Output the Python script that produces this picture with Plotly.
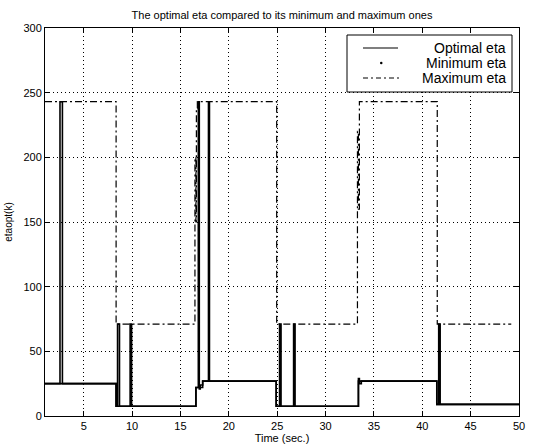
import plotly.graph_objects as go

# Switching instants (s) and levels of each eta trajectory (drawn as steps)
opt_t = [1, 2.55, 2.8, 8.35, 8.5, 8.7, 9.8, 9.95, 16.6, 16.85, 16.95, 17.05, 17.3,
         17.9, 18.0, 24.9, 25.25, 25.4, 26.7, 26.85, 33.4, 33.5, 33.7, 41.5, 41.7, 41.85, 50]
opt_v = [25, 243, 25, 7.5, 71, 7.5, 71, 7.5, 22, 243, 21, 24, 27,
         243, 27, 7.5, 71, 7.5, 71, 7.5, 29, 25, 27, 9, 71, 9, 9]

min_t = [1, 8.35, 16.6, 17.3, 24.9, 33.4, 41.5, 50]
min_v = [25, 7.5, 22, 27, 7.5, 27, 9, 9]

max_t = [1, 8.35, 16.5, 16.6, 16.65, 16.75, 24.95, 33.3, 33.4, 33.5, 41.55, 49.2]
max_v = [243, 71, 200, 150, 238, 243, 71, 220, 160, 243, 71, 71]

x_ticks = [5, 10, 15, 20, 25, 30, 35, 40, 45, 50]
y_ticks = [0, 50, 100, 150, 200, 250, 300]

legend_names = ["Optimal eta", "Minimum eta", "Maximum eta"]

FONT = "Liberation Sans, Arial, Helvetica, sans-serif"
DASHDOT = "7px,3px,2px,3px"

fig = go.Figure()
fig.add_trace(go.Scatter(x=opt_t, y=opt_v, mode="lines", line_shape="hv",
                         name=legend_names[0], showlegend=False,
                         line=dict(color="black", width=1.6)))
fig.add_trace(go.Scatter(x=min_t, y=min_v, mode="lines", line_shape="hv",
                         name=legend_names[1], showlegend=False,
                         line=dict(color="black", width=1.6)))
fig.add_trace(go.Scatter(x=max_t, y=max_v, mode="lines", line_shape="hv",
                         name=legend_names[2], showlegend=False,
                         line=dict(color="black", width=1.2, dash=DASHDOT)))

axis_common = dict(
    showline=True, linecolor="black", linewidth=1, mirror="ticks",
    ticks="inside", ticklen=5, tickcolor="black", tickwidth=1,
    showgrid=True, gridcolor="black", gridwidth=1, griddash="1px,3px",
    zeroline=False, automargin=False,
    tickfont=dict(family=FONT, size=11, color="black"),
)

fig.update_xaxes(range=[1, 50], tickvals=x_ticks,
                 title=dict(text="Time (sec.)", font=dict(family=FONT, size=11, color="black"),
                            standoff=2),
                 **axis_common)
fig.update_yaxes(range=[0, 300], tickvals=y_ticks,
                 title=dict(text="etaopt(k)", font=dict(family=FONT, size=10, color="black"),
                            standoff=8),
                 **axis_common)

# Legend box drawn in paper coordinates (plot area spans 474 x 388 px)
L, T, W, H = 45, 28, 474, 388


def px(xp):
    return (xp - L) / W


def py(yp):
    return (T + H - yp) / H


shapes = [dict(type="rect", xref="paper", yref="paper",
               x0=px(347), x1=px(512), y0=py(92), y1=py(35),
               line=dict(color="black", width=1), fillcolor="white", layer="above")]
rows = [48, 63, 78]
shapes.append(dict(type="line", xref="paper", yref="paper",
                   x0=px(363), x1=px(398), y0=py(rows[0]), y1=py(rows[0]),
                   line=dict(color="black", width=1.2), layer="above"))
shapes.append(dict(type="circle", xref="paper", yref="paper",
                   x0=px(380), x1=px(382.5), y0=py(rows[1] + 1.2), y1=py(rows[1] - 1.2),
                   line=dict(color="black", width=0), fillcolor="black", layer="above"))
shapes.append(dict(type="line", xref="paper", yref="paper",
                   x0=px(363), x1=px(400), y0=py(rows[2]), y1=py(rows[2]),
                   line=dict(color="black", width=1.2, dash="5px,3px,2px,3px"), layer="above"))

annotations = [dict(text=name, xref="paper", yref="paper", x=px(508), y=py(r),
                    xanchor="right", yanchor="middle", showarrow=False,
                    font=dict(family=FONT, size=14, color="black"))
               for name, r in zip(legend_names, rows)]

fig.update_layout(
    width=542, height=445,
    margin=dict(l=L, r=542 - L - W, t=T, b=445 - T - H),
    paper_bgcolor="white", plot_bgcolor="white",
    title=dict(text="The optimal eta compared to its minimum and maximum ones",
               x=(L + W / 2) / 542, xanchor="center", y=1 - 15 / 445, yanchor="middle",
               font=dict(family=FONT, size=11, color="black")),
    font=dict(family=FONT, color="black"),
    showlegend=False,
    shapes=shapes,
    annotations=annotations,
)

fig.write_html("out.html")
